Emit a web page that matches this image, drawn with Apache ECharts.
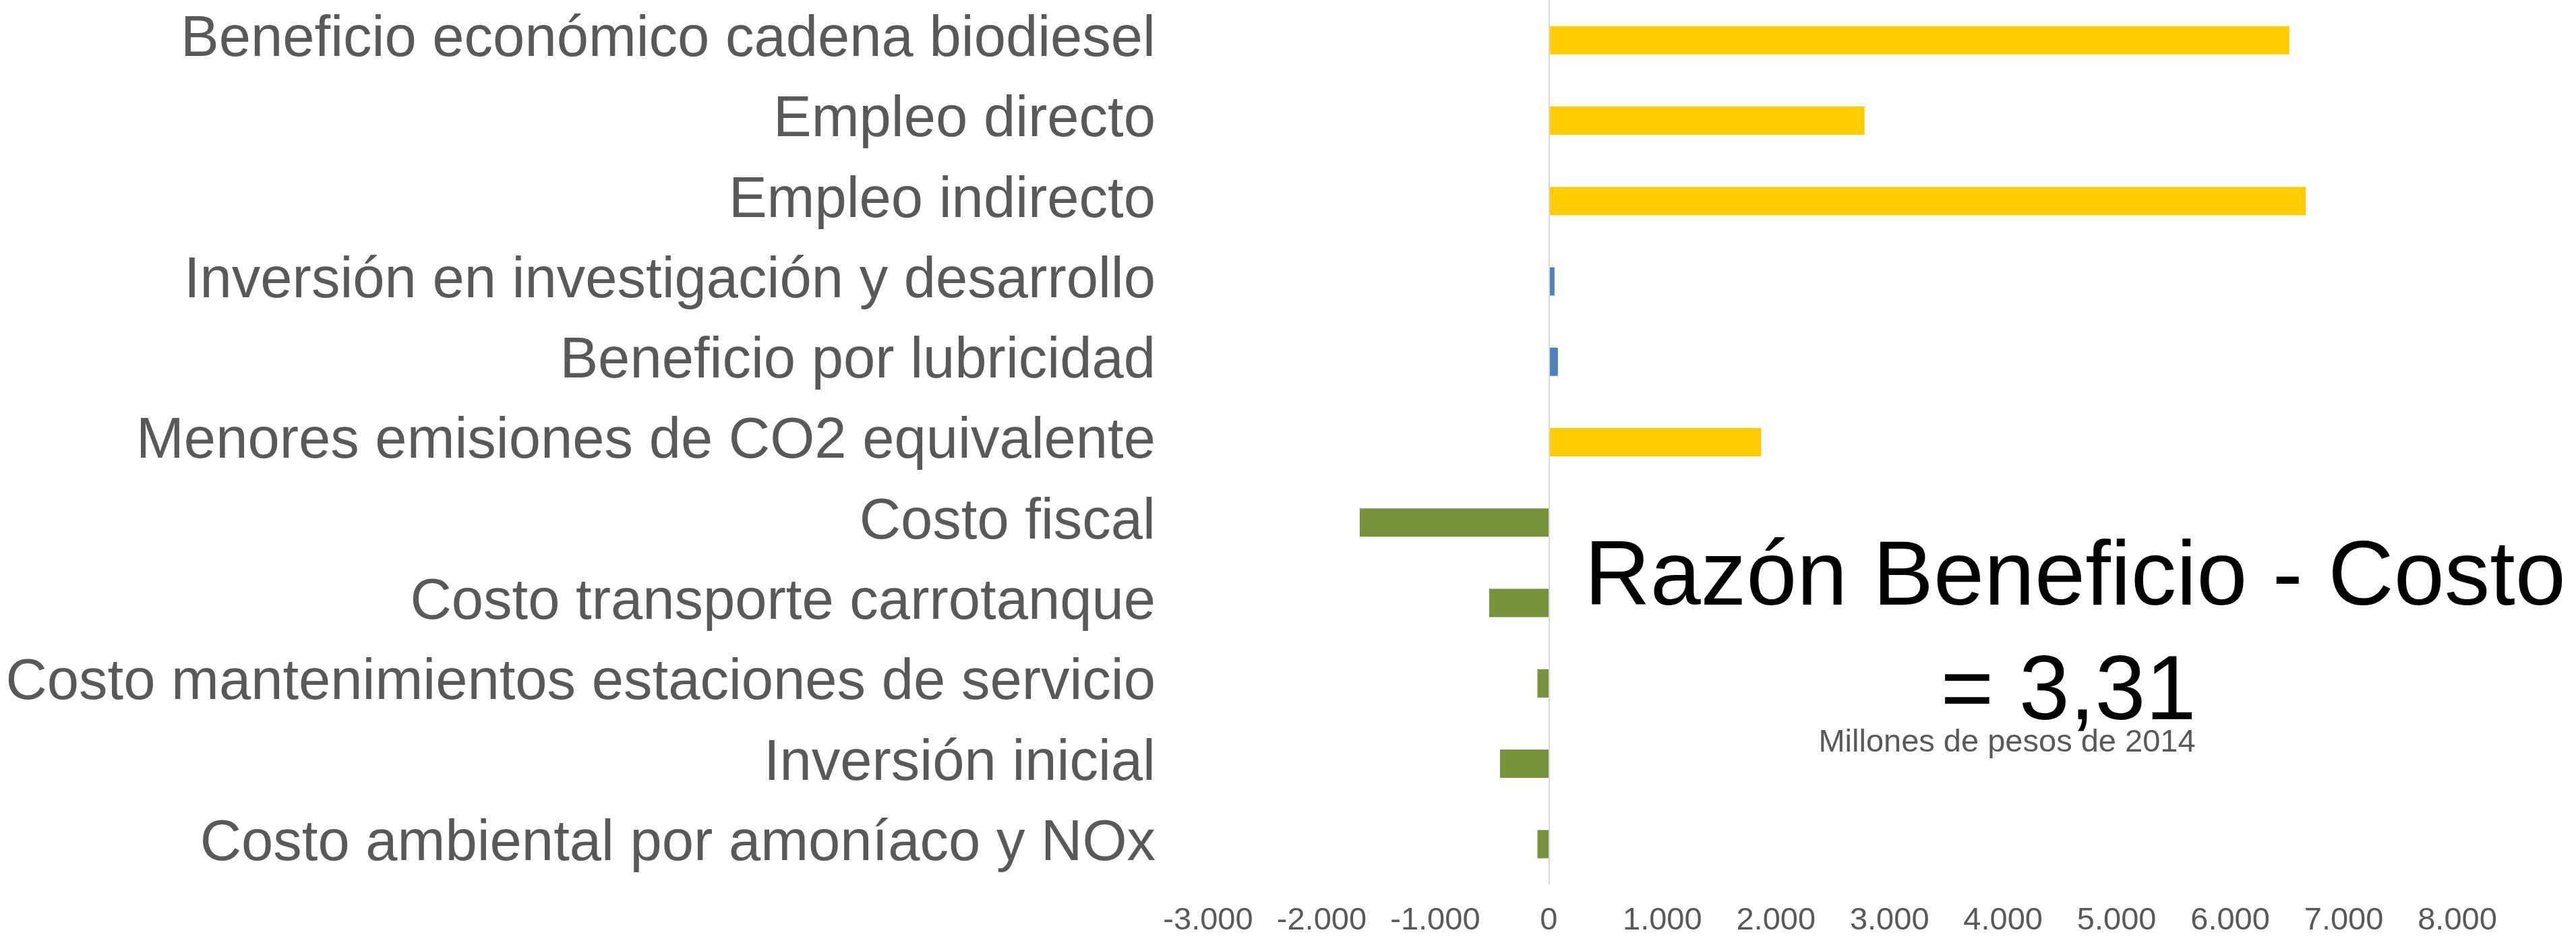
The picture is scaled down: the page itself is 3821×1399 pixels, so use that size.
<!DOCTYPE html>
<html>
<head>
<meta charset="utf-8">
<script src="https://cdn.jsdelivr.net/npm/echarts@6/dist/echarts.min.js"></script>
<style>
  html, body { margin: 0; padding: 0; background: #fff; }
  #chart { width: 3821px; height: 1399px; }
</style>
</head>
<body>
<div id="chart"></div>
<script>
// categorias (de arriba hacia abajo)
var categories = [
    'Beneficio económico cadena biodiesel',
    'Empleo directo',
    'Empleo indirecto',
    'Inversión en investigación y desarrollo',
    'Beneficio por lubricidad',
    'Menores emisiones de CO2 equivalente',
    'Costo fiscal',
    'Costo transporte carrotanque',
    'Costo mantenimientos estaciones de servicio',
    'Inversión inicial',
    'Costo ambiental por amoníaco y NOx'
];
// millones de pesos de 2014
var values = [6520, 2780, 6665, 50, 80, 1870, -1665, -525, -100, -430, -100];
// tipo de cada fila: beneficio, otro beneficio, costo
var groups = ['ben', 'ben', 'ben', 'otro', 'otro', 'ben', 'costo', 'costo', 'costo', 'costo', 'costo'];
var groupColors = { ben: '#FFCC00', otro: '#4F81BD', costo: '#77933C' };

var tickLabels = { '-3000': '-3.000', '-2000': '-2.000', '-1000': '-1.000', '0': '0',
    '1000': '1.000', '2000': '2.000', '3000': '3.000', '4000': '4.000',
    '5000': '5.000', '6000': '6.000', '7000': '7.000', '8000': '8.000' };

var font = '"Liberation Sans", Arial, sans-serif';
var chart = echarts.init(document.getElementById('chart'));

var barData = values.map(function (v, i) {
    return { value: v, itemStyle: { color: groupColors[groups[i]] } };
});

var option = {
    animation: false,
    backgroundColor: '#ffffff',
    grid: { left: 1792, right: 176, top: 0, bottom: 87, containLabel: false },
    xAxis: {
        type: 'value',
        min: -3000,
        max: 8000,
        interval: 1000,
        axisLine: { show: false },
        axisTick: { show: false },
        splitLine: { show: false },
        axisLabel: {
            fontSize: 47,
            color: '#595959',
            fontFamily: font,
            margin: 31,
            formatter: function (v) { return tickLabels[String(v)]; }
        }
    },
    yAxis: {
        type: 'category',
        inverse: true,
        data: categories,
        axisLine: { show: false },
        axisTick: { show: false },
        splitLine: { show: false },
        axisLabel: {
            fontSize: 85,
            color: '#595959',
            fontFamily: font,
            margin: 78
        }
    },
    series: [{
        type: 'bar',
        data: barData,
        barWidth: 42,
        markLine: {
            silent: true,
            symbol: 'none',
            label: { show: false },
            lineStyle: { color: '#d9d9d9', width: 2, type: 'solid' },
            data: [{ xAxis: 0 }]
        }
    }],
    graphic: [
        {
            type: 'text', x: 3078, y: 860,
            style: {
                text: 'Razón Beneficio - Costo', fontSize: 135, fontFamily: font,
                fill: '#000000', align: 'center', verticalAlign: 'middle'
            }
        },
        {
            type: 'text', x: 3068, y: 1030,
            style: {
                text: '= 3,31', fontSize: 135, fontFamily: font,
                fill: '#000000', align: 'center', verticalAlign: 'middle'
            }
        },
        {
            type: 'text', x: 2977, y: 1102,
            style: {
                text: 'Millones de pesos de 2014', fontSize: 47, fontFamily: font,
                fill: '#595959', align: 'center', verticalAlign: 'middle'
            }
        }
    ]
};

chart.setOption(option);
</script>
</body>
</html>
